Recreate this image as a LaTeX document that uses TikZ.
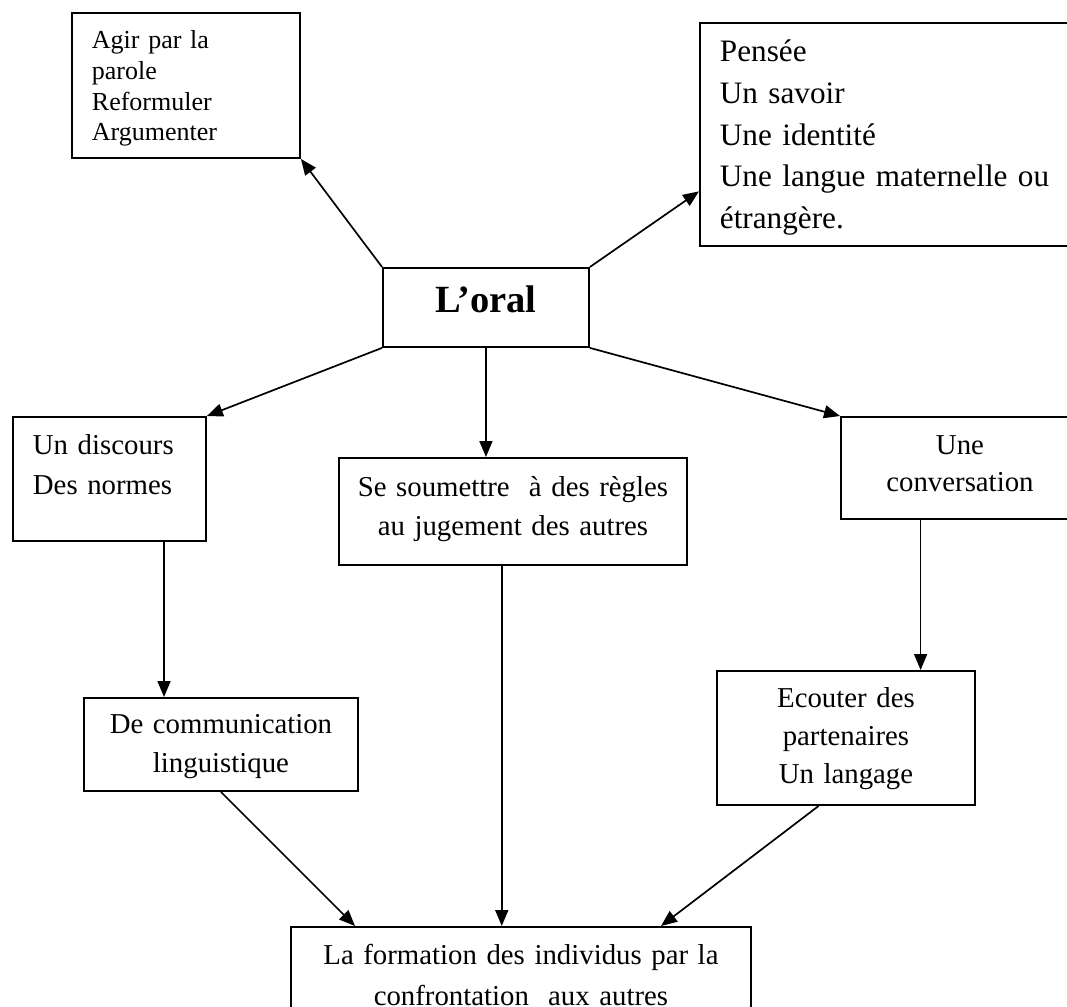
\documentclass[tikz,border=0pt]{standalone}
\usepackage{fontspec}
\setmainfont{Liberation Serif}
\usetikzlibrary{arrows.meta,calc}
\tikzset{
boxnodev1/.style={rectangle, draw=black!100, line width=1.9pt, anchor=north west, inner ysep=0pt, font=\fontsize{28.8}{38.5}\selectfont},
leftbox/.style={boxnodev1, align=left, inner xsep=20pt},
midbox/.style={boxnodev1, align=center, inner xsep=0pt},
arrowv1/.style={line width=1.7pt, black, -{Triangle[length=16pt,width=13pt]}},
}
\begin{document}
\begin{tikzpicture}[x=1pt,y=-1pt]
\useasboundingbox (0,0) rectangle (1067,1006);
\clip (0,0) rectangle (1067,1006);

\node[leftbox, text width=188pt, text height=36pt, text depth=109pt, font=\fontsize{26}{30.6}\selectfont] at (71,12) (agir) {Agir par la\\parole\\Reformuler\\Argumenter};
\node[leftbox, text width=351pt, text height=39pt, text depth=184pt, font=\fontsize{31.2}{41.6}\selectfont] at (699,22) (savoir) {Pensée\\Un savoir\\Une identité\\Une langue maternelle ou\\étrangère.};
\node[midbox, text width=206pt, text height=45pt, text depth=34pt, font=\fontsize{38.5}{44}\selectfont\bfseries] at (382,267) (oral) {L’oral};

\node[leftbox, text width=153pt, text height=38pt, text depth=86pt, font=\fontsize{28.8}{40}\selectfont] at (12,416) (discours) {Un discours\\Des normes};
\node[midbox, text width=348pt, text height=39pt, text depth=68pt] at (338,457) (regles) {Se soumettre~ à des règles\\au jugement des autres};
\node[midbox, text width=238pt, text height=38pt, text depth=64pt, font=\fontsize{28.8}{37}\selectfont] at (840,416) (conv) {Une\\conversation};

\node[midbox, text width=274pt, text height=36pt, text depth=57pt] at (83,697) (comm) {De communication\\linguistique};
\node[midbox, text width=258pt, text height=37pt, text depth=97pt, font=\fontsize{28.8}{38}\selectfont] at (716,670) (ecouter) {Ecouter des\\partenaires\\Un langage};
\node[midbox, text width=460pt, text height=38pt, text depth=72pt, font=\fontsize{28.8}{41}\selectfont] at (290,926) (formation) {La formation des individus par la\\confrontation~ aux autres};

\draw[arrowv1] (oral.north west) -- (agir.south east);
\draw[arrowv1] (oral.north east) -- ($(savoir.north west)!0.753!(savoir.south west)$);
\draw[arrowv1] (oral.south west) -- (discours.north east);
\draw[arrowv1] (oral.south) -- (oral.south |- regles.north);
\draw[arrowv1] (oral.south east) -- (conv.north west);

\coordinate (d1) at ($(discours.south west)!0.78!(discours.south east)$);
\coordinate (r1) at ($(regles.south west)!0.468!(regles.south east)$);
\coordinate (c1) at ($(conv.south west)!0.336!(conv.south east)$);
\draw[arrowv1] (d1) -- (d1 |- comm.north);
\draw[arrowv1] (r1) -- (r1 |- formation.north);
\draw[arrowv1] (c1) -- (c1 |- ecouter.north);

\draw[arrowv1] (comm.south) -- ($(formation.north west)+(65,0)$);
\draw[arrowv1] ($(ecouter.south west)!0.395!(ecouter.south east)$) -- ($(formation.north west)+(371,0)$);
\end{tikzpicture}
\end{document}
